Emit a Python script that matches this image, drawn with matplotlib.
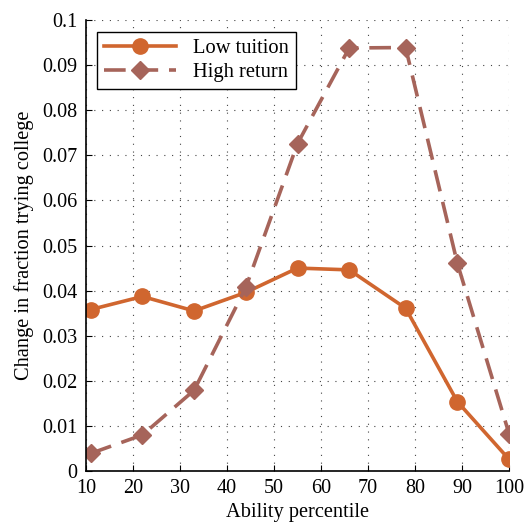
import matplotlib
matplotlib.use('Agg')
import matplotlib.pyplot as plt
from matplotlib.ticker import FuncFormatter

percentile = [11, 22, 33, 44, 55, 66, 78, 89, 100]
low_tuition = [0.0358, 0.0387, 0.0355, 0.0396, 0.0450, 0.0446, 0.0361, 0.0154, 0.0026]
high_return = [0.0039, 0.0080, 0.0179, 0.0407, 0.0726, 0.0938, 0.0939, 0.0461, 0.0083]

x_ticks = list(range(10, 101, 10))
y_ticks = [i / 100 for i in range(0, 11)]

plt.rcParams['font.family'] = ['Liberation Serif', 'DejaVu Serif']

fig = plt.figure(figsize=(5.26, 5.24), dpi=100)
ax = fig.add_axes([0.1635, 0.1011, 0.8042, 0.8607])

ax.plot(percentile, low_tuition, color='#D0662F', lw=2.6, marker='o', ms=11,
        label='Low tuition')
ax.plot(percentile, high_return, color='#A6645A', lw=2.6, marker='D', ms=9,
        dashes=(6, 3), label='High return')

ax.set_xlim(10, 100)
ax.set_ylim(0, 0.1)
ax.set_xticks(x_ticks)
ax.set_yticks(y_ticks)
ax.yaxis.set_major_formatter(FuncFormatter(lambda v, p: '%g' % round(v, 3)))
ax.tick_params(direction='in', length=4, width=0.8, labelsize=14.5, pad=6)
ax.grid(True, linestyle=(0, (1, 6)), color='#444444', lw=0.8)

for side in ['top', 'right']:
    ax.spines[side].set_visible(False)
for side in ['left', 'bottom']:
    ax.spines[side].set_linewidth(1.2)

ax.set_xlabel('Ability percentile', fontsize=14.7, labelpad=3)
ax.set_ylabel('Change in fraction trying college', fontsize=14.7, labelpad=6)

leg = ax.legend(loc='upper left', bbox_to_anchor=(0.026, 0.974), borderaxespad=0,
                fontsize=14.8, fancybox=False, framealpha=1, edgecolor='black',
                handlelength=3.5, borderpad=0.35, labelspacing=0.2)
leg.get_frame().set_linewidth(1.0)

fig.savefig('out.png', dpi=100)
